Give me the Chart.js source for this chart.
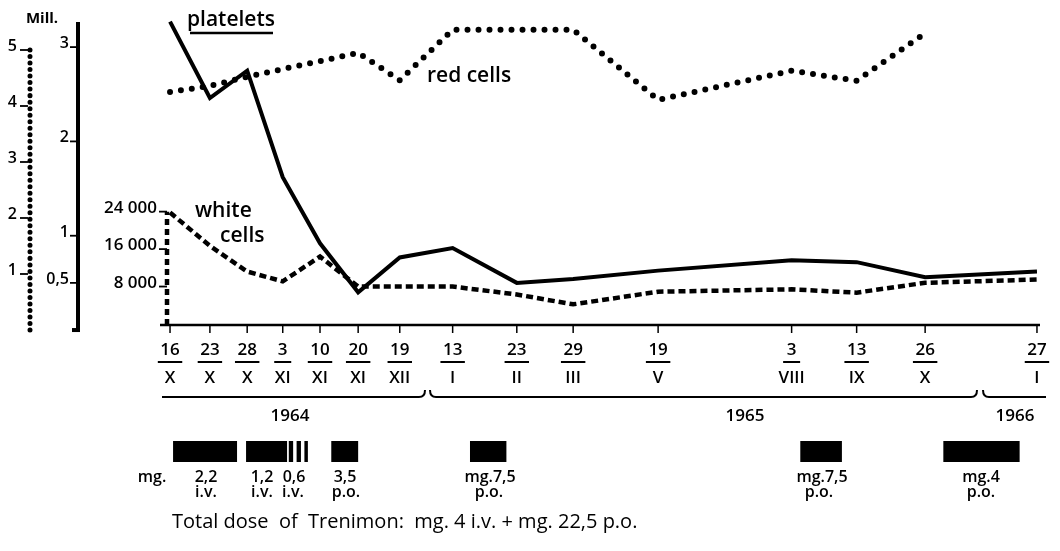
<!DOCTYPE html>
<html><head><meta charset="utf-8">
<script src="https://cdn.jsdelivr.net/npm/chart.js@4.4.1/dist/chart.umd.min.js"></script>
<style>html,body{margin:0;padding:0;background:#fff}#wrap{width:1060px;height:551px}</style>
</head><body><div id="wrap"><canvas id="c" width="1060" height="551"></canvas></div>
<script>
// ---- data ----
const dayLabels   = ['16','23','28','3','10','20','19','13','23','29','19','3','13','26','27'];
const monthLabels = ['X','X','X','XI','XI','XI','XII','I','II','III','V','VIII','IX','X','I'];
// position of each sampling date along the (non-proportional) time axis of the original chart, 0..100
const datePositions = [0,4.6,8.9,13.0,17.3,21.7,26.5,32.6,40.0,46.5,56.3,71.7,79.2,87.1,100];
const platelets  = [3.27,2.46,2.75,1.62,0.92,0.40,0.77,0.87,0.50,0.54,0.63,0.74,0.72,0.56,0.62]; // Mill.
const redCells   = [4.25,4.36,4.52,4.66,4.80,4.95,4.46,5.36,5.36,5.36,4.11,4.63,4.45,5.30,null]; // Mill.
const whiteCells = [23800,16700,11200,9100,14400,8000,8000,8000,6300,4200,6900,7400,6700,8800,9500];
const redTicks = [1,2,3,4,5];
const plateletTicks = [0.5,1,2,3];
const plateletTickLabels = ['0,5','1','2','3'];
const whiteTicks = [8000,16000,24000];
const whiteTickLabels = ['8 000','16 000','24 000'];
const years = ['1964','1965','1966'];
// Trenimon treatment periods (same axis units as datePositions)
const treatStart = [0.35,8.77,13.7,14.6,15.5,18.6,34.6,72.7,89.2];
const treatEnd   = [7.73,13.5,14.2,15.1,15.9,21.7,38.8,77.5,98.0];

const FONT = "'Open Sans', 'DejaVu Sans', sans-serif";
const W = '600';
const pts = arr => datePositions.map((x,i)=>({x, y: arr[i]}));

const decor = {
  id:'decor',
  afterDatasetsDraw(chart){
    const c = chart.ctx, xs = chart.scales.x, yP = chart.scales.yPlt, yR = chart.scales.yRed, yW = chart.scales.yWhite;
    const ca = chart.chartArea;
    c.save();
    c.fillStyle = '#000'; c.strokeStyle = '#000';
    const seg = (x1,y1,x2,y2)=>{c.beginPath();c.moveTo(x1,y1);c.lineTo(x2,y2);c.stroke();};
    const txt = (t,x,y,size,align,base,weight)=>{c.font=(weight||W)+' '+size+'px '+FONT;c.textAlign=align||'center';c.textBaseline=base||'middle';c.fillText(t,x,y);};

    // --- x axis ---
    const y0 = ca.bottom + 1;
    c.lineWidth = 2.5; c.setLineDash([]);
    seg(ca.left-5, y0, ca.right, y0);
    datePositions.forEach((p,i)=>{
      const x = xs.getPixelForValue(p);
      c.lineWidth = 1.5; seg(x, y0, x, y0+8);
      txt(dayLabels[i], x, 350, 17, 'center', 'middle');
      c.font = W+' 17px '+FONT;
      const w = Math.max(c.measureText(dayLabels[i]).width+5, 17);
      c.lineWidth = 2; seg(x-w/2, 362, x+w/2, 362);
      txt(monthLabels[i], x, 378, 17, 'center', 'middle');
    });

    // --- year brackets ---
    c.lineWidth = 2;
    const brace = (x1,x2,curlL,curlR)=>{
      c.beginPath();
      if(curlL){c.moveTo(x1,390);c.quadraticCurveTo(x1,397,x1+6,397);} else c.moveTo(x1,397);
      if(curlR){c.lineTo(x2-6,397);c.quadraticCurveTo(x2,397,x2,390);} else c.lineTo(x2,397);
      c.stroke();
    };
    brace(162,425,false,true);
    brace(430,977,true,true);
    brace(983,1046,true,false);
    txt(years[0], 290, 416, 17);
    txt(years[1], 745, 416, 17);
    txt(years[2], 1015, 416, 17);

    // --- treatment bars ---
    treatStart.forEach((s,i)=>{
      const a = xs.getPixelForValue(s), b = xs.getPixelForValue(treatEnd[i]);
      c.fillRect(a, 441, b-a, 21);
    });
    const ds = 16;
    txt('mg.', 152, 477, ds);
    txt('2,2', 206, 477, ds); txt('i.v.', 206, 492, ds);
    txt('1,2', 262, 477, ds); txt('i.v.', 262, 492, ds);
    txt('0,6', 294, 477, ds); txt('i.v.', 293, 492, ds);
    txt('3,5', 345, 477, ds); txt('p.o.', 346, 492, ds);
    txt('mg.7,5', 490, 477, ds); txt('p.o.', 489, 492, ds);
    txt('mg.7,5', 822, 477, ds); txt('p.o.', 819, 492, ds);
    txt('mg.4', 981, 477, ds); txt('p.o.', 981, 492, ds);
    txt('Total dose  of  Trenimon:  mg. 4 i.v. + mg. 22,5 p.o.', 172, 522, 20, 'left', 'middle', 'normal');

    // --- red cells axis (dotted) ---
    const xr = 30;
    c.lineWidth = 5; c.lineCap = 'round'; c.setLineDash([0.01,6.5]);
    seg(xr, yR.getPixelForValue(0), xr, yR.getPixelForValue(5));
    c.setLineDash([]); c.lineCap='butt'; c.lineWidth = 1.8;
    redTicks.forEach(v=>{
      const y = yR.getPixelForValue(v);
      seg(20, y, 28, y);
      txt(String(v), 17, y+1, 16, 'right', 'alphabetic');
    });
    txt('Mill.', 42, 19, 15, 'center', 'middle', 'bold');

    // --- platelets axis (solid) ---
    const xp = 78;
    c.lineWidth = 4;
    seg(xp, yP.getPixelForValue(0)+2, xp, ca.top);
    seg(xp-6, yP.getPixelForValue(0), xp+2, yP.getPixelForValue(0));
    c.lineWidth = 1.8;
    plateletTicks.forEach((v,i)=>{
      const y = yP.getPixelForValue(v);
      seg(xp-8, y, xp, y);
      txt(plateletTickLabels[i], xp-9, y+1, 16, 'right', 'alphabetic');
    });

    // --- white cells axis (dashed) ---
    const xw = ca.left+2;
    c.lineWidth = 4.5; c.setLineDash([6,4]);
    seg(xw, y0, xw, yW.getPixelForValue(24000));
    c.setLineDash([]); c.lineWidth = 1.8;
    whiteTicks.forEach((v,i)=>{
      const y = yW.getPixelForValue(v);
      seg(xw-8, y, xw, y);
      txt(whiteTickLabels[i], xw-10, y+1, 17, 'right', 'alphabetic');
    });

    // --- series labels ---
    txt('platelets', 187, 20, 21, 'left');
    c.lineWidth = 2.5; seg(190, 33, 273, 33);
    txt('red cells', 427, 76, 21, 'left');
    txt('white', 195, 211, 21, 'left');
    txt('cells', 220, 236, 21, 'left');
    c.restore();
  }
};

new Chart(document.getElementById('c'), {
  type:'line',
  data:{ datasets:[
    {label:'platelets', data:pts(platelets), yAxisID:'yPlt', borderColor:'#000', borderWidth:4,
     pointRadius:0, borderJoinStyle:'miter', tension:0, clip:false},
    {label:'red cells', data:pts(redCells), yAxisID:'yRed', borderColor:'#000', borderWidth:6,
     borderDash:[0,11], borderCapStyle:'round', pointRadius:0, tension:0, clip:false},
    {label:'white cells', data:pts(whiteCells), yAxisID:'yWhite', borderColor:'#000', borderWidth:4.5,
     borderDash:[7,4], pointRadius:0, tension:0, clip:false}
  ]},
  options:{
    responsive:false, animation:false, devicePixelRatio:1,
    layout:{padding:{left:165, right:20, top:22, bottom:227}},
    plugins:{legend:{display:false}, tooltip:{enabled:false}},
    scales:{
      x:{type:'linear', min:-0.58, max:100.35, display:false},
      yPlt:{type:'linear', min:0.064, max:3.266, display:false},
      yRed:{type:'linear', min:0.107, max:5.5, display:false},
      yWhite:{type:'linear', min:0, max:64500, display:false}
    }
  },
  plugins:[decor]
});
</script></body></html>
